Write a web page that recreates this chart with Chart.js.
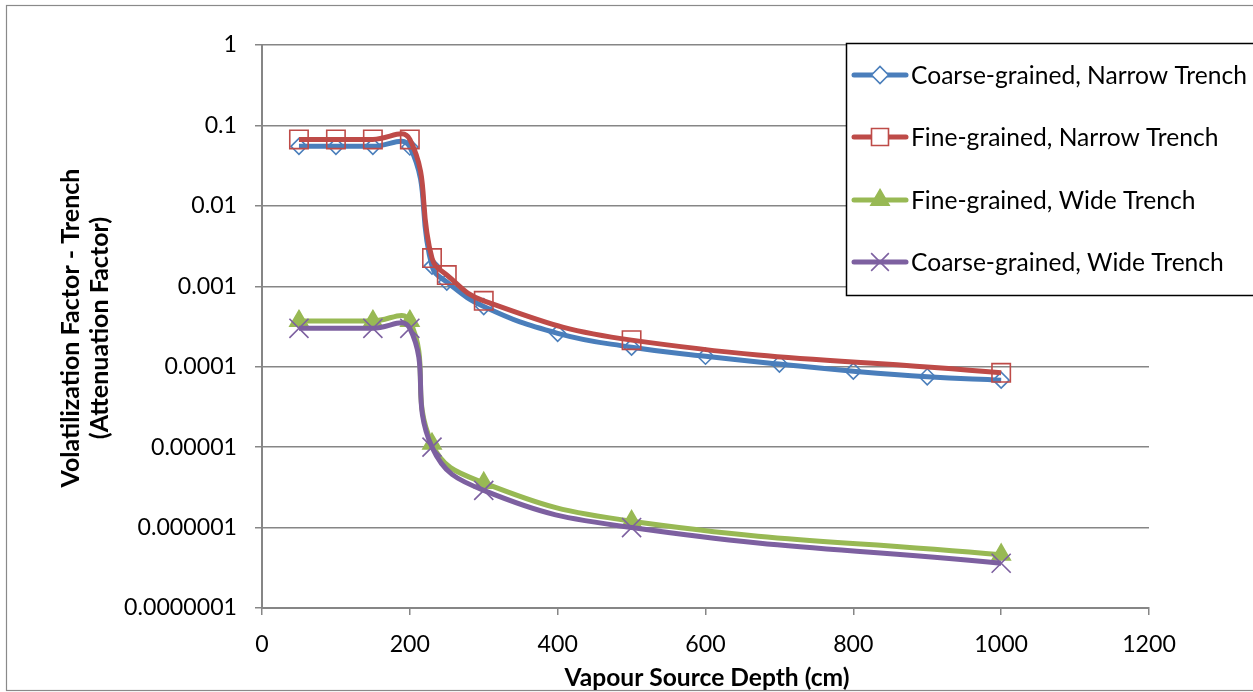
<!DOCTYPE html>
<html><head><meta charset="utf-8">
<script src="https://cdn.jsdelivr.net/npm/chart.js@4.4.0/dist/chart.umd.min.js"></script>
<style>html,body{margin:0;padding:0;background:#fff;}#wrap{width:1253px;height:692px;position:relative;}</style>
</head><body><div id="wrap"><canvas id="c" width="1253" height="692"></canvas></div>
<script>
const seriesNames = ['Coarse-grained, Narrow Trench','Fine-grained, Narrow Trench','Fine-grained, Wide Trench','Coarse-grained, Wide Trench'];
const depthNarrowCoarse = [50,100,150,200,230,250,300,400,500,600,700,800,900,1000];
const coarseNarrow = [0.055,0.055,0.055,0.054,0.00178,0.00113,0.00056,0.00026,0.000175,0.000135,0.000108,0.000088,0.000075,0.000068];
const depthNarrowFine = [50,100,150,200,230,250,300,500,1000];
const fineNarrow = [0.067,0.067,0.067,0.067,0.00224,0.00138,0.00066,0.000214,0.000084];
const depthWide = [50,150,200,230,300,500,1000];
const fineWide = [0.00037,0.00037,0.00037,0.000011,0.0000036,0.0000012,0.00000046];
const coarseWide = [0.0003,0.0003,0.0003,0.00001,0.0000029,0.000001,0.00000036];
const yTickValues = [1,0.1,0.01,0.001,0.0001,0.00001,0.000001,0.0000001];
const yTickLabels = ['1','0.1','0.01','0.001','0.0001','0.00001','0.000001','0.0000001'];
const xTitle = 'Vapour Source Depth (cm)';
const yTitle = ['Volatilization Factor - Trench','(Attenuation Factor)'];

const FAMILY = 'Lato, "Liberation Sans", sans-serif';
const mctx = document.createElement('canvas').getContext('2d');
function fitSize(text, weight, target){
  mctx.font = weight + ' 100px ' + FAMILY;
  return 100 * target / mctx.measureText(text).width;
}
const tickSize = fitSize('0.0000001', 'normal', 113);
const xTitleSize = fitSize(xTitle, 'bold', 285);
const yTitleSize = fitSize(yTitle[0], 'bold', 319);
const legendSize = fitSize(seriesNames[0], 'normal', 336);

const colors = ['#4A7EBB','#BE4B48','#98B954','#7D60A0'];
const styles = [
  {pointStyle:'rectRot', pointRadius:8, legendRadius:8.5, fill:false},
  {pointStyle:'rect', pointRadius:13, legendRadius:12, fill:false},
  {pointStyle:'triangle', pointRadius:10.5, legendRadius:10.5, fill:true},
  {pointStyle:'crossRot', pointRadius:13.5, legendRadius:12.5, fill:false}
];
function pts(xs, ys){ return xs.map((x,i)=>({x:x,y:ys[i]})); }
const dataArr = [pts(depthNarrowCoarse,coarseNarrow), pts(depthNarrowFine,fineNarrow), pts(depthWide,fineWide), pts(depthWide,coarseWide)];
const orders = [4,3,2,1];
const datasets = dataArr.map((d,i)=>({
  label: seriesNames[i], data: d, borderColor: colors[i], borderWidth: 5,
  tension: 0.45, pointStyle: styles[i].pointStyle, pointRadius: styles[i].pointRadius,
  pointBorderColor: colors[i], pointBackgroundColor: styles[i].fill ? colors[i] : 'rgba(0,0,0,0)',
  pointBorderWidth: 1.6, order: orders[i], clip: false
}));

const deco = {
  id:'deco',
  beforeDraw(chart){
    const ctx = chart.ctx;
    ctx.save();
    ctx.fillStyle='#fff'; ctx.fillRect(0,0,chart.width,chart.height);
    ctx.strokeStyle='#8a8a8a'; ctx.lineWidth=1.2;
    ctx.strokeRect(6.5,5.5,1400,685);
    ctx.restore();
  },
  afterDraw(chart){
    const ctx = chart.ctx;
    ctx.save();
    ctx.fillStyle='#000';
    ctx.textAlign='center'; ctx.textBaseline='middle';
    ctx.font='bold ' + xTitleSize + 'px ' + FAMILY;
    ctx.fillText(xTitle, 707, 678);
    ctx.font='bold ' + yTitleSize + 'px ' + FAMILY;
    ctx.translate(85, 328); ctx.rotate(-Math.PI/2);
    ctx.fillText(yTitle[0], 0, -14);
    ctx.fillText(yTitle[1], 0, 15);
    ctx.restore();
    // legend
    ctx.save();
    ctx.fillStyle='#fff';
    ctx.fillRect(846,43,420,252);
    ctx.strokeStyle='#000'; ctx.lineWidth=1.5;
    ctx.strokeRect(846.5,43.5,420,252);
    const ys=[75,137,200,262];
    ctx.font=legendSize + 'px ' + FAMILY;
    ctx.textBaseline='middle'; ctx.textAlign='left';
    for(let i=0;i<4;i++){
      ctx.strokeStyle=colors[i]; ctx.lineWidth=5; ctx.lineCap='round';
      ctx.beginPath(); ctx.moveTo(854,ys[i]); ctx.lineTo(906,ys[i]); ctx.stroke();
      ctx.lineCap='butt';
      ctx.fillStyle = styles[i].fill?colors[i]:'#fff';
      ctx.strokeStyle=colors[i]; ctx.lineWidth=1.6;
      Chart.helpers.drawPoint(ctx, {pointStyle:styles[i].pointStyle, radius: styles[i].legendRadius, borderWidth:1.6, rotation:0}, 880, ys[i]);
      ctx.fillStyle='#000';
      ctx.fillText(seriesNames[i], 911, ys[i]+1);
    }
    ctx.restore();
  }
};

new Chart(document.getElementById('c'), {
  type:'line',
  data:{datasets},
  options:{
    responsive:false, animation:false,
    layout:{padding:{top:45,right:104,left:0,bottom:0}},
    plugins:{legend:{display:false}, tooltip:{enabled:false}},
    scales:{
      x:{type:'linear', min:0, max:1200,
        afterFit(s){ s.height = 84; },
        ticks:{stepSize:200, color:'#000', font:{family:FAMILY, size:tickSize}, padding:16,
          callback(v){ return String(v); }},
        grid:{drawOnChartArea:false, drawTicks:true, tickLength:7, color:'#868686', lineWidth:1.5},
        border:{color:'#868686', width:2}
      },
      y:{type:'logarithmic', min:1e-7, max:1,
        afterFit(s){ s.width = 262; },
        afterBuildTicks(s){ s.ticks = yTickValues.map(v=>({value:v})); },
        ticks:{color:'#000', font:{family:FAMILY, size:tickSize}, padding:18,
          callback(v){ const i = yTickValues.findIndex(t=>Math.abs(Math.log10(t)-Math.log10(v))<1e-6); return i>=0?yTickLabels[i]:''; }},
        grid:{color:'#868686', lineWidth:1.5, tickLength:7},
        border:{color:'#868686', width:2}
      }
    }
  },
  plugins:[deco]
});
</script></body></html>
